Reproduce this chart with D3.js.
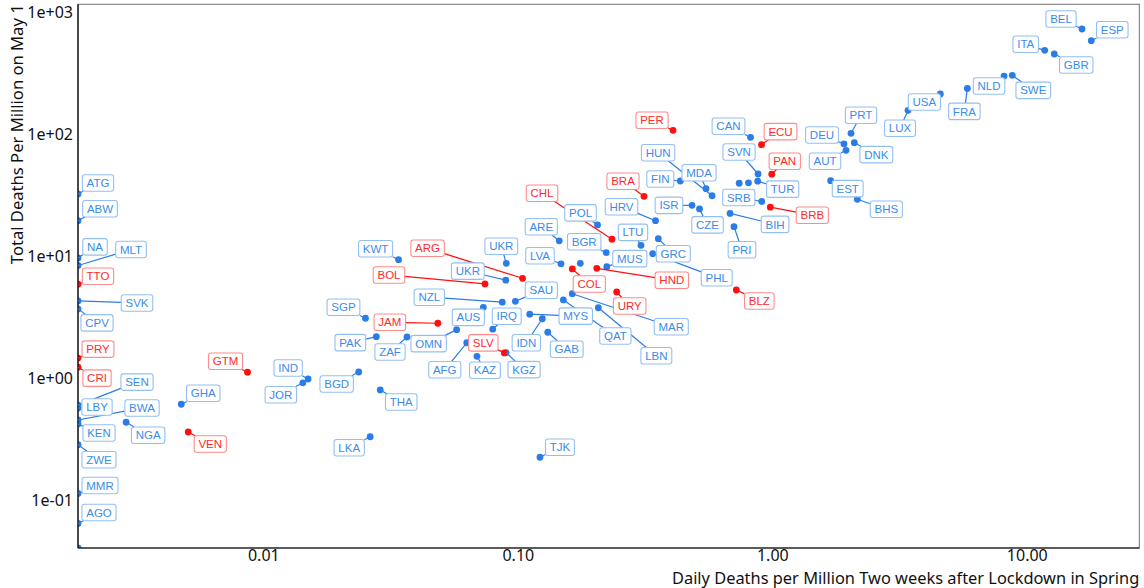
<!DOCTYPE html>
<html><head><meta charset="utf-8">
<script src="https://cdn.jsdelivr.net/npm/d3@7"></script>
<style>body{margin:0;background:#fff}svg{display:block}</style>
</head><body><svg id="chart" width="1144" height="588"></svg>
<script>
// ---------------- data ----------------
const countries = ["ATG","ABW","NA","MLT","TTO","SVK","CPV","PRY","CRI","SEN","LBY","BWA","KEN","ZWE","MMR","AGO","",
  "NGA","GHA","VEN","GTM","IND","JOR","BGD","THA","LKA","KWT","SGP","PAK","ZAF","JAM","OMN","AUS","AFG","IRQ","KAZ","KGZ","SLV",
  "BOL","ARG","UKR","UKR","NZL","SAU","MYS","IDN","GAB","TJK","QAT","MAR","LBN","URY","COL","LVA","","HND","MUS","BGR","ARE","POL",
  "CHL","BRA","PER","HRV","LTU","GRC","PHL","FIN","MDA","HUN","ISR","CZE","BIH","PRI","BLZ","BRB","SRB","TUR","","","SVN","PAN",
  "CAN","ECU","DEU","AUT","PRT","DNK","EST","BHS","LUX","USA","FRA","NLD","SWE","ITA","GBR","BEL","ESP"];
// Daily deaths per million two weeks after lockdown (0 = none, drawn at the panel edge)
const dailyDeathsAfterLockdown = [0,0,0,0,0,0,0,0,0,0,0,0,0,0,0,0,0,
  0.00289,0.00476,0.00507,0.00867,0.0150,0.0143,0.0237,0.0288,0.0263,0.0340,0.0252,0.0278,0.0367,0.0485,0.0575,0.0732,0.0630,0.0797,0.0691,0.0899,0.0885,
  0.0743,0.1044,0.0901,0.0897,0.0869,0.0978,0.1114,0.1248,0.1311,0.1222,0.1510,0.1637,0.2072,0.2446,0.1637,0.1478,0.176,0.2044,0.2237,0.2225,0.1455,0.2057,
  0.2345,0.3132,0.4073,0.3475,0.3048,0.3565,0.3389,0.435,0.549,0.580,0.4835,0.5176,0.6823,0.707,0.722,0.982,0.909,0.876,0.806,0.741,0.879,0.995,
  0.821,0.907,1.913,1.948,2.038,2.100,1.696,2.158,3.414,4.573,5.84,8.14,8.77,11.76,12.82,16.48,17.92];
// Total deaths per million on May 1
const totalDeathsMay1 = [32.5,19.6,9.7,8.4,5.9,4.3,3.7,1.46,1.23,0.60,0.568,0.453,0.42,0.284,0.113,0.064,0,
  0.434,0.61,0.361,1.118,0.983,0.915,1.122,0.799,0.330,9.38,3.10,2.19,2.175,2.82,2.50,3.81,1.95,2.52,1.51,1.62,1.61,
  5.93,6.60,8.76,6.37,4.20,4.27,3.35,3.07,2.38,0.224,4.38,4.93,3.78,5.09,7.87,8.68,8.76,7.97,8.22,10.7,13.4,18.1,
  13.8,31.1,108.3,19.6,12.3,13.95,10.5,41.5,35.9,31.4,26.2,24.5,22.5,17.5,5.29,25.3,28.2,41.4,40.1,39.8,47.4,47.2,
  94.8,82.5,83.6,74.2,102.3,85.7,41.8,29.4,158,215,239,302,306,491,458,735,589];
const highlightedCountries = ["PER","ECU","PAN","BRB","BRA","CHL","ARG","BOL","COL","HND","URY","BLZ","JAM","SLV","GTM","VEN","TTO","PRY","CRI"];
const xTicks = [0.01, 0.1, 1, 10];
const xTickLabels = ["0.01","0.10","1.00","10.00"];
const yTicks = [0.1, 1, 10, 100, 1000];
const yTickLabels = ["1e-01","1e+00","1e+01","1e+02","1e+03"];
const xTitle = "Daily Deaths per Million Two weeks after Lockdown in Spring";
const yTitle = "Total Deaths Per Million on May 1";

// ---------------- layout (repelled label offsets, px) ----------------
const labelNudge = [[20,-11],[22,-12],[17,-11],[53,-16],[20,-8],[59,2],[19,14],[20,-9],[19,11],[59,-23],[19,-1],[64,-12],[21,9],[21,15],[22,-8],[21,-11],null,
  [22,13],[22,-11],[22,12],[-22,-11],[-20,-11],[-22,12],[-22,12],[21,12],[-21,11],[-23,-11],[-22,-11],[-26,6],[-17,15],[-48,-1],[-28,14],[-15,10],[-22,27],[14,-13],[8,14],[18,17],[-21,-10],
  [-96,-9],[-95,-30],[-5,-17],[-38,-9],[-73,-5],[26,-11],[46,2],[-16,24],[19,17],[20,-10],[52,36],[99,33],[58,48],[13,14],[17,15],[-21,-8],null,[75,12],[23,-8],[-22,-11],[-18,-14],[-17,-12],
  [-70,-46],[-21,-15],[-21,-10],[-34,-14],[-8,-13],[15,15],[64,24],[-20,-2],[-7,-16],[-54,-43],[-23,0],[8,16],[45,11],[8,23],[23,11],[42,8],[-23,-4],[25,8],null,null,[-19,-22],[13,-13],
  [-22,-11],[19,-13],[-22,-9],[-21,11],[10,-18],[22,12],[17,8],[29,10],[-8,18],[-16,8],[-3,23],[-15,10],[21,15],[-19,-6],[22,11],[-21,-10],[21,-11]];

const panel = {left:78, right:1139.3, top:4.3, bottom:548};
const blue = {pt:"#2a7de6", text:"#3b8beb", border:"#93c0f3"};
const red  = {pt:"#ff0f0f", text:"#ff2a2a", border:"#ff8c8c"};

const svg = d3.select("#chart");
const x = d3.scaleLog().domain([0.00187, 27.67]).range([panel.left, panel.right]);
const y = d3.scaleLog().domain([0.04028, 1172]).range([panel.bottom, panel.top]);
const px = v => v > 0 ? x(v) : x.range()[0];
const py = v => v > 0 ? y(v) : y.range()[0];

const data = countries.map((c,i)=>({code:c, xv:dailyDeathsAfterLockdown[i], yv:totalDeathsMay1[i],
  red: highlightedCountries.includes(c), nudge: labelNudge[i]}));

svg.append("defs").append("clipPath").attr("id","clip").append("rect")
  .attr("x",panel.left).attr("y",panel.top).attr("width",panel.right-panel.left).attr("height",panel.bottom-panel.top);

// panel border
svg.append("rect").attr("x",panel.left).attr("y",panel.top)
  .attr("width",panel.right-panel.left).attr("height",panel.bottom-panel.top)
  .attr("fill","none").attr("stroke","#6e6e6e").attr("stroke-width",1);

// points
svg.append("g").attr("clip-path","url(#clip)").selectAll("circle").data(data).join("circle")
  .attr("cx",d=>px(d.xv)).attr("cy",d=>py(d.yv)).attr("r",3.4)
  .attr("fill",d=>d.red?red.pt:blue.pt);

// axes lines
svg.append("line").attr("x1",panel.left).attr("x2",panel.left).attr("y1",panel.top).attr("y2",panel.bottom)
  .attr("stroke","#000").attr("stroke-width",1.2);
svg.append("line").attr("x1",panel.left).attr("x2",panel.right).attr("y1",panel.bottom).attr("y2",panel.bottom)
  .attr("stroke","#000").attr("stroke-width",1.2);

// axis tick labels (via d3 axes, no tick marks)
const xAxis = d3.axisBottom(x).tickValues(xTicks).tickFormat((d,i)=>xTickLabels[i]).tickSize(0).tickPadding(1);
const gx = svg.append("g").attr("transform",`translate(0,${panel.bottom})`).call(xAxis);
gx.select(".domain").remove();
gx.selectAll("text").attr("font-family","'Noto Sans', sans-serif").attr("font-size",16).attr("fill","#111").attr("dy","0.72em");
const yAxis = d3.axisLeft(y).tickValues(yTicks).tickFormat((d,i)=>yTickLabels[i]).tickSize(0).tickPadding(5);
const gy = svg.append("g").attr("transform",`translate(${panel.left},0)`).call(yAxis);
gy.select(".domain").remove();
gy.selectAll("text").attr("font-family","'Noto Sans', sans-serif").attr("font-size",16).attr("fill","#111");

// titles
svg.append("text").attr("x",panel.right).attr("y",583.5).attr("text-anchor","end")
  .attr("font-family","'Noto Sans', sans-serif").attr("font-size",16.4).attr("fill","#111").text(xTitle);
svg.append("text").attr("transform",`translate(23,${panel.top}) rotate(-90)`).attr("text-anchor","end")
  .attr("font-family","'Noto Sans', sans-serif").attr("font-size",16.6).attr("fill","#111").text(yTitle);

// labels with segments
const labeled = data.filter(d=>d.code && d.nudge);
const gSeg = svg.append("g");
const gLab = svg.append("g");
labeled.forEach(d=>{
  const col = d.red ? red : blue;
  const ptx = px(d.xv), pty = py(d.yv);
  const cx = ptx + d.nudge[0], cy = pty + d.nudge[1];
  const g = gLab.append("g");
  const rect = g.append("rect");
  const t = g.append("text").attr("x",cx).attr("y",cy).attr("dy","0.36em").attr("text-anchor","middle")
    .attr("font-family","'Liberation Sans', Arial, sans-serif").attr("font-size",11.5).attr("fill",col.text).text(d.code);
  const w = t.node().getComputedTextLength() + 8.5, h = 16.5;
  rect.attr("x",cx-w/2).attr("y",cy-h/2).attr("width",w).attr("height",h).attr("rx",2.5)
    .attr("fill","#fff").attr("stroke",col.border).attr("stroke-width",1.1);
  const dx = ptx - cx, dy = pty - cy, hw = w/2, hh = h/2;
  if (Math.abs(dx) > hw || Math.abs(dy) > hh) {
    const tt = Math.min(Math.abs(dx)>0 ? hw/Math.abs(dx) : Infinity, Math.abs(dy)>0 ? hh/Math.abs(dy) : Infinity);
    const ex = cx + dx*tt, ey = cy + dy*tt;
    if (Math.hypot(ptx-ex, pty-ey) > 3) {
      gSeg.append("line").attr("x1",ex).attr("y1",ey).attr("x2",ptx).attr("y2",pty)
        .attr("stroke",col.pt).attr("stroke-width",1.2);
    }
  }
});
</script></body></html>
